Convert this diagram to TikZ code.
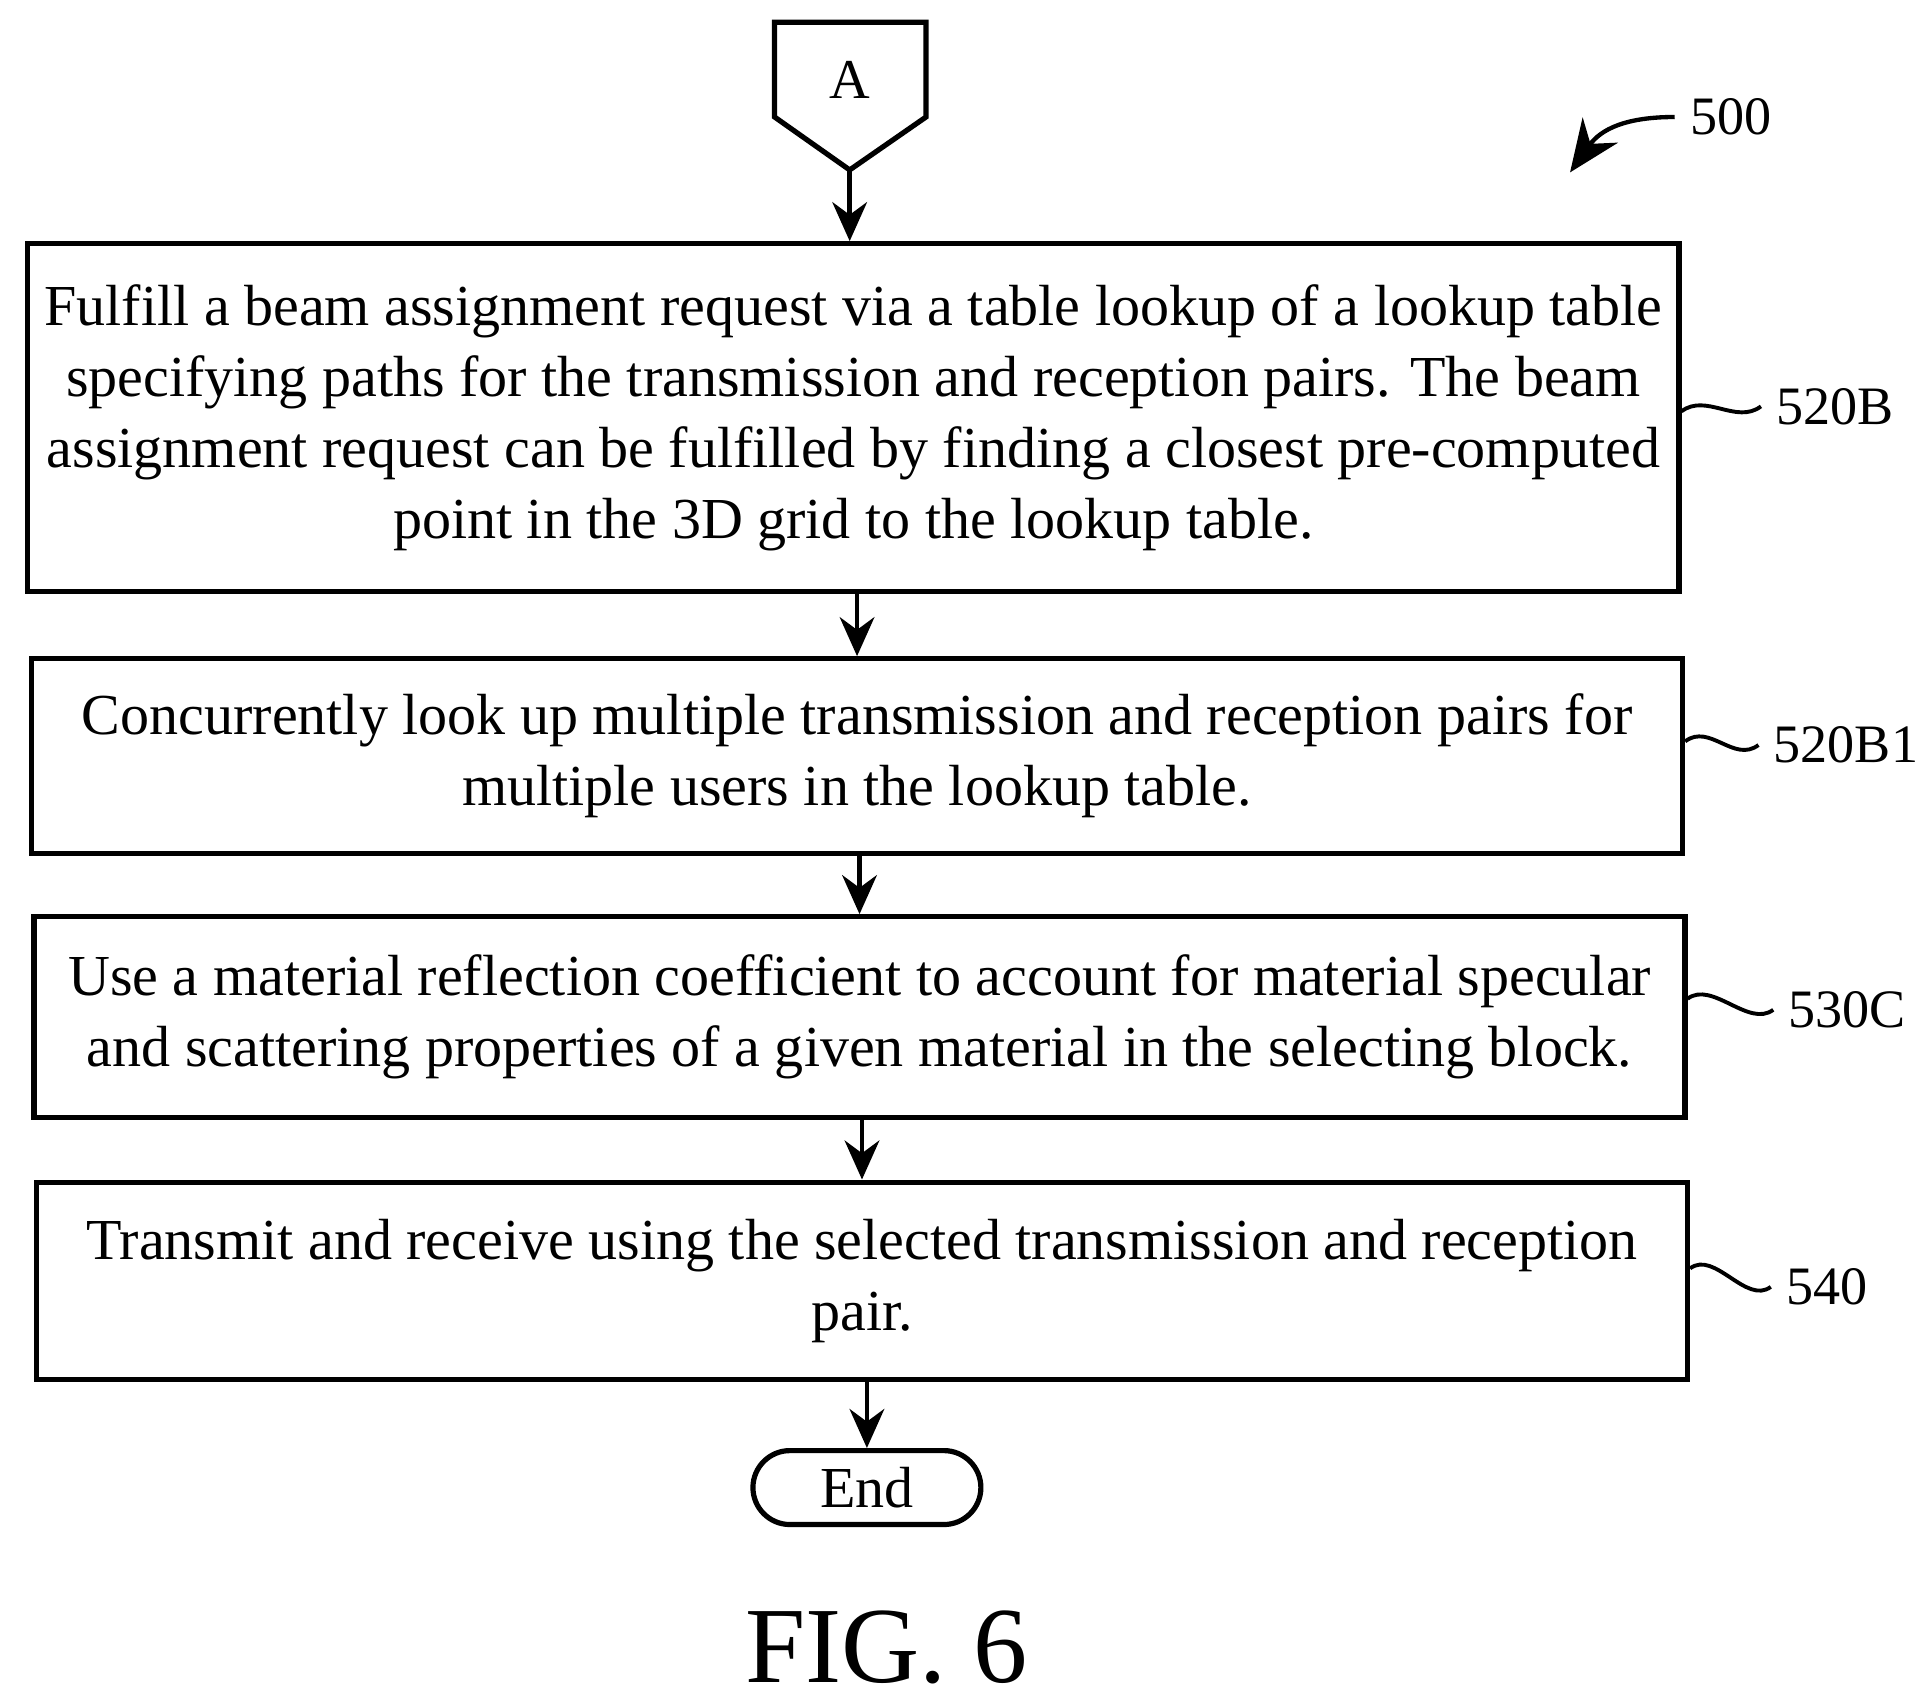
\documentclass[tikz,border=0pt]{standalone}
\usepackage{fontspec}
\setmainfont{Liberation Serif}
\usetikzlibrary{positioning,arrows.meta}
\tikzset{
  procbox/.style={draw, line width=1.2pt, minimum width=13.4cm, align=center, inner sep=1pt,
    font=\fontsize{13.4}{16.4}\selectfont},
  flow/.style={draw, line width=1.1pt, -{Stealth[length=9pt,width=8pt]}},
  ref/.style={font=\fontsize{12.5}{14}\selectfont, anchor=west},
}
\begin{document}
\begin{tikzpicture}[x=0.01cm,y=-0.01cm]
\useasboundingbox (0,0) rectangle (1560,1384);
% connector A
\draw[line width=1.2pt] (629,18) -- (752,18) -- (752,95) -- (690,138) -- (629,95) -- cycle;
\node[font=\fontsize{13}{15}\selectfont] (A) at (690,65) {A};
\coordinate (Atip) at (690,138);
% steps
\node[procbox, minimum height=2.82cm] (s520B) at (693,339) {Fulfill a beam assignment request via a table lookup of a lookup table\\
specifying paths for the transmission and reception pairs. The beam\\
assignment request can be fulfilled by finding a closest pre-computed\\
point in the 3D grid to the lookup table.};
\node[procbox, minimum height=1.58cm] (s520B1) at (696,614) {Concurrently look up multiple transmission and reception pairs for\\
multiple users in the lookup table.};
\node[procbox, minimum height=1.63cm] (s530C) at (698,826) {Use a material reflection coefficient to account for material specular\\
and scattering properties of a given material in the selecting block.};
\node[procbox, minimum height=1.6cm] (s540) at (700,1040) {Transmit and receive using the selected transmission and reception\\
pair.};
\node[draw, line width=1.2pt, rounded corners=0.3cm, minimum width=1.85cm, minimum height=0.6cm,
  font=\fontsize{13.4}{15}\selectfont] (end) at (704,1208) {End};
% arrows
\draw[flow] (Atip) -- (s520B.north -| Atip);
\draw[flow] (s520B1.north |- s520B.south) -- (s520B1.north);
\draw[flow] (s530C.north |- s520B1.south) -- (s530C.north);
\draw[flow] (s540.north |- s530C.south) -- (s540.north);
\draw[flow] (end.north |- s540.south) -- (end.north);
% reference labels
\node[ref] (l520B) at (1430,330) {520B};
\draw[line width=0.9pt] (s520B.east) ++(0,-5) .. controls +(20,-15) and +(-20,15) .. (l520B.west);
\node[ref] (l520B1) at (1428,605) {520B1};
\draw[line width=0.9pt] (s520B1.east) ++(0,-12) .. controls +(20,-15) and +(-20,15) .. (l520B1.west);
\node[ref] (l530C) at (1440,820) {530C};
\draw[line width=0.9pt] (s530C.east) ++(0,-15) .. controls +(20,-15) and +(-20,15) .. (l530C.west);
\node[ref] (l540) at (1438,1045) {540};
\draw[line width=0.9pt] (s540.east) ++(0,-10) .. controls +(20,-15) and +(-20,15) .. (l540.west);
\node[ref] (l500) at (1360,95) {500};
\draw[line width=1pt, -{Stealth[length=12pt,width=10pt]}] (l500.west) .. controls (1320,95) and (1300,105) .. (1275,140);
% caption
\node[font=\fontsize{25}{28}\selectfont] (fig) at (720,1338) {FIG. 6};
\end{tikzpicture}
\end{document}
